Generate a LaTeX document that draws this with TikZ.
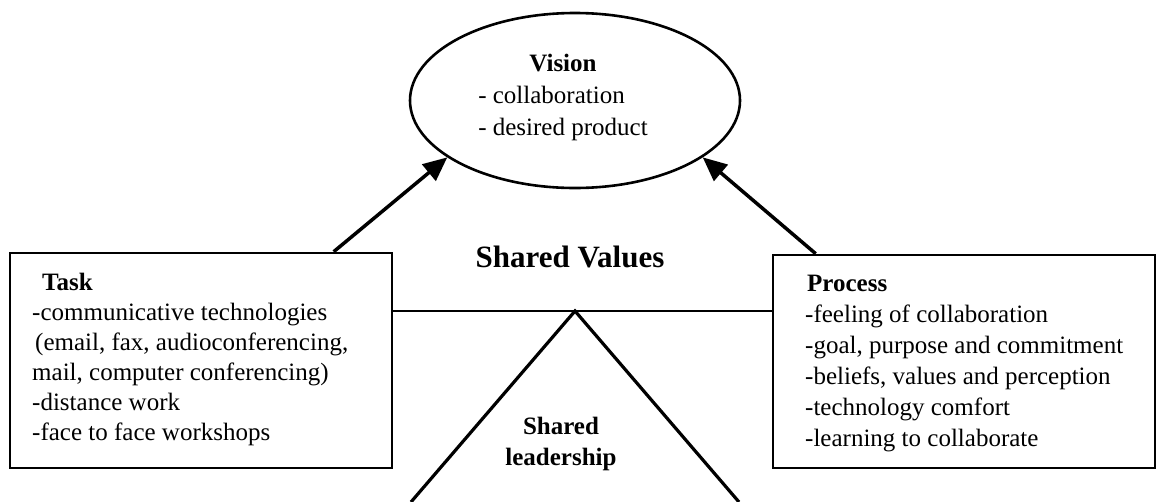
\documentclass[tikz,border=0pt]{standalone}
\usepackage{fontspec}
\setmainfont{Liberation Serif}
\usetikzlibrary{shapes.geometric,arrows.meta}
\begin{document}
\begin{tikzpicture}[x=1pt,y=-1pt,
  frame/.style={draw,line width=2.6pt,rectangle,inner sep=0pt},
  link/.style={line width=3.2pt},
  pointer/.style={line width=3.5pt,-{Triangle[length=24pt,width=21pt]}},
  body/.style={inner sep=0pt},
]
\useasboundingbox (0,0) rectangle (1159,501);

% vision ellipse and its text
\node[draw,ellipse,line width=2.6pt,minimum width=330pt,minimum height=175pt,inner sep=0pt] (vision) at (575,100.5) {};
\node[body,anchor=base] (visiontext) at (563,71)
  {\fontsize{25}{32}\selectfont\begin{tabular}[t]{@{}l@{}}
   \multicolumn{1}{@{}c@{}}{\textbf{Vision}}\\
   - collaboration\\
   - desired product
   \end{tabular}};

% the two boxes
\node[frame,minimum width=382pt,minimum height=215pt] (task) at (201,360.5) {};
\node[frame,minimum width=382pt,minimum height=213pt] (process) at (964,361.5) {};

\node[body,anchor=base west] (tasktext) at (32,290)
  {\fontsize{25}{30}\selectfont\begin{tabular}[t]{@{}l@{}}
   \hspace{10pt}\textbf{Task}\\
   -communicative technologies\\
   \hspace{3pt}(email, fax, audioconferencing,\\
   mail, computer conferencing)\\
   -distance work\\
   -face to face workshops
   \end{tabular}};

\node[body,anchor=base west] (processtext) at (805,291)
  {\fontsize{25}{31}\selectfont\begin{tabular}[t]{@{}l@{}}
   \hspace{2pt}\textbf{Process}\\
   -feeling of collaboration\\
   -goal, purpose and commitment\\
   -beliefs, values and perception\\
   -technology comfort\\
   -learning to collaborate
   \end{tabular}};

% central labels
\node[font=\fontsize{31}{36}\selectfont\bfseries] (values) at (570,257) {Shared Values};
\node[font=\fontsize{25}{31}\selectfont\bfseries,align=center] (leader) at (561,444) {Shared\\leadership};

% values bar and leadership triangle
\coordinate (apex) at (575,311);
\coordinate (footL) at (411,502);
\coordinate (footR) at (739,502);
\draw[line width=2.6pt] (task.east |- apex) -- (process.west |- apex);
\draw[link,line join=miter] (footL) -- (apex) -- (footR);

% arrows up to the vision
\draw[pointer] ([xshift=325pt]task.north west) -- (vision.204);
\draw[pointer] ([xshift=44pt]process.north west) -- (vision.336);
\end{tikzpicture}
\end{document}
